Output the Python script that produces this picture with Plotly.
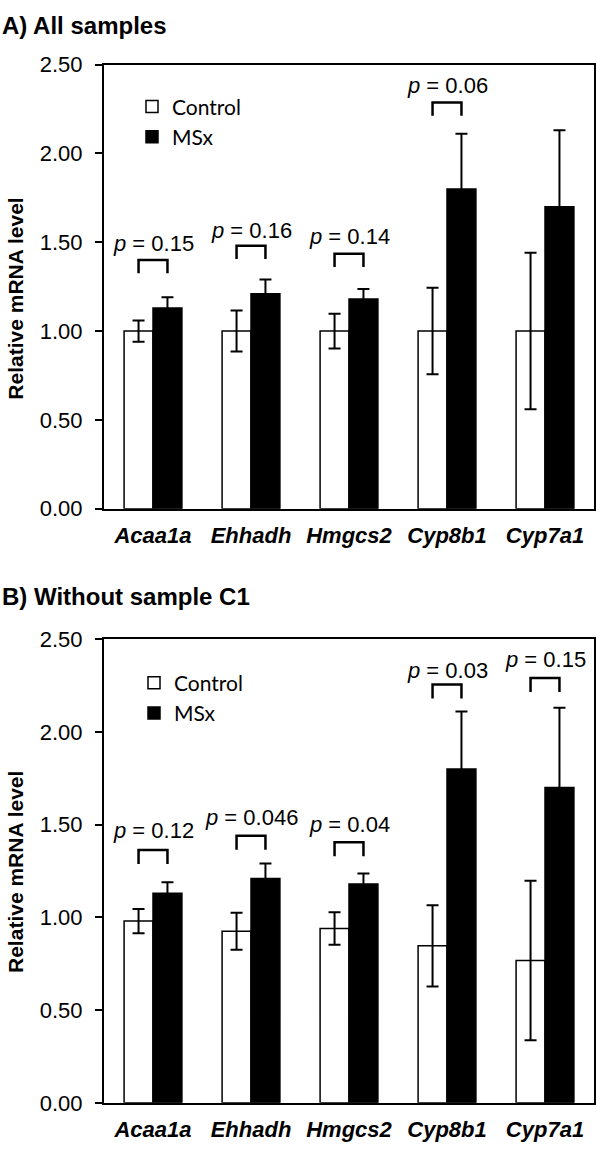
import plotly.graph_objects as go

# ---------------- data ----------------
genes = ["Acaa1a", "Ehhadh", "Hmgcs2", "Cyp8b1", "Cyp7a1"]

# Panel A: all samples
a_control = [1.00, 1.00, 1.00, 1.00, 1.00]
a_control_err = [0.06, 0.115, 0.098, 0.243, 0.44]
a_msx = [1.13, 1.21, 1.18, 1.80, 1.70]
a_msx_err = [0.06, 0.08, 0.057, 0.31, 0.43]
a_pvals = ["0.15", "0.16", "0.14", "0.06", None]
a_bracket_top = [1.40, 1.48, 1.435, 2.287, None]
a_ptext_y = [1.49, 1.566, 1.53, 2.38, None]

# Panel B: without sample C1
b_control = [0.98, 0.925, 0.94, 0.847, 0.767]
b_control_err = [0.065, 0.10, 0.088, 0.219, 0.43]
b_msx = [1.13, 1.21, 1.18, 1.80, 1.70]
b_msx_err = [0.06, 0.08, 0.057, 0.31, 0.43]
b_pvals = ["0.12", "0.046", "0.04", "0.03", "0.15"]
b_bracket_top = [1.363, 1.44, 1.405, 2.255, 2.29]
b_ptext_y = [1.47, 1.537, 1.50, 2.33, 2.39]

tick_vals = [0, 0.5, 1.0, 1.5, 2.0, 2.5]

# ---------------- styling ----------------
W, H = 596, 1155
FONT = "Liberation Sans, Arial, sans-serif"
LEG_FONT = "Lato, Open Sans, sans-serif"
BARGAP = 0.41
OFF = (1 - BARGAP) / 4  # center offset of each bar in a group of two
LEG_LEN = 0.075
xpos = list(range(len(genes)))

fig = go.Figure()


def add_panel(ctrl, ctrl_err, msx, msx_err, pvals, btop, ptext, xa, ya, legend):
    fig.add_trace(go.Bar(
        x=xpos, y=ctrl, name="Control", xaxis=xa, yaxis=ya, legend=legend,
        marker=dict(color="white", line=dict(color="black", width=1.5)),
        error_y=dict(type="data", array=ctrl_err, color="black", thickness=2, width=6),
        offsetgroup="c",
    ))
    fig.add_trace(go.Bar(
        x=xpos, y=msx, name="MSx", xaxis=xa, yaxis=ya, legend=legend,
        marker=dict(color="black", line=dict(color="black", width=1.5)),
        error_y=dict(type="data", array=msx_err, color="black", thickness=2, width=6),
        offsetgroup="m",
    ))
    bx, by = [], []
    for i, top in enumerate(btop):
        if top is None:
            continue
        bx += [i - OFF, i - OFF, i + OFF, i + OFF, None]
        by += [top - LEG_LEN, top, top, top - LEG_LEN, None]
    fig.add_trace(go.Scatter(
        x=bx, y=by, mode="lines", xaxis=xa, yaxis=ya, showlegend=False,
        line=dict(color="black", width=2.5), hoverinfo="skip",
    ))
    for i, (p, ty) in enumerate(zip(pvals, ptext)):
        if p is None:
            continue
        fig.add_annotation(
            x=i, y=ty, xref=xa, yref=ya, text=f"<i>p</i> = {p}", showarrow=False,
            xanchor="center", yanchor="middle",
            font=dict(family=FONT, size=22, color="black"),
        )


add_panel(a_control, a_control_err, a_msx, a_msx_err, a_pvals, a_bracket_top, a_ptext_y,
          "x", "y", "legend")
add_panel(b_control, b_control_err, b_msx, b_msx_err, b_pvals, b_bracket_top, b_ptext_y,
          "x2", "y2", "legend2")


def xaxis_style(anchor):
    return dict(
        domain=[104 / W, 594 / W], range=[-0.5, len(genes) - 0.5], anchor=anchor,
        tickvals=xpos, ticktext=genes, ticks="", showline=True, linecolor="black",
        linewidth=2, mirror=True, showgrid=False, zeroline=False,
        tickfont=dict(family=FONT, size=22, color="black", weight="bold", style="italic"),
        ticklabelstandoff=6,
    )


def yaxis_style(anchor, top_px, bot_px):
    return dict(
        domain=[1 - bot_px / H, 1 - top_px / H], range=[0, 2.5], anchor=anchor,
        tickvals=tick_vals, tickformat=".2f", ticks="outside", ticklen=7, tickwidth=2,
        tickcolor="black", showline=True, linecolor="black", linewidth=2, mirror=True,
        showgrid=False, zeroline=False,
        tickfont=dict(family=FONT, size=22, color="black"), ticklabelstandoff=8,
    )


fig.update_layout(
    width=W, height=H, margin=dict(l=0, r=0, t=0, b=0),
    paper_bgcolor="white", plot_bgcolor="white",
    barmode="group", bargap=BARGAP, bargroupgap=0,
    xaxis=xaxis_style("y"), yaxis=yaxis_style("x", 53.7, 507.7),
    xaxis2=xaxis_style("y2"), yaxis2=yaxis_style("x2", 641, 1115),
    legend=dict(x=132 / W, y=1 - 76 / H, xanchor="left", yanchor="top",
                font=dict(family=LEG_FONT, size=21, color="black"),
                bgcolor="rgba(0,0,0,0)", tracegroupgap=0),
    legend2=dict(x=134 / W, y=1 - 665 / H, xanchor="left", yanchor="top",
                 font=dict(family=LEG_FONT, size=21, color="black"),
                 bgcolor="rgba(0,0,0,0)", tracegroupgap=0),
    showlegend=True,
)

# panel titles
fig.add_annotation(x=0, y=1 - 14 / H, xref="paper", yref="paper", xanchor="left",
                   yanchor="middle", text="<b>A) All samples</b>", showarrow=False,
                   font=dict(family=FONT, size=24, color="black"))
fig.add_annotation(x=0, y=1 - 597 / H, xref="paper", yref="paper", xanchor="left",
                   yanchor="middle", text="<b>B) Without sample C1</b>", showarrow=False,
                   font=dict(family=FONT, size=24, color="black"))
# y-axis titles
fig.add_annotation(x=16 / W, y=1 - 293 / H, xref="paper", yref="paper", textangle=-90,
                   xanchor="center", yanchor="middle",
                   text="<b>Relative mRNA level</b>", showarrow=False,
                   font=dict(family=FONT, size=21, color="black"))
fig.add_annotation(x=16 / W, y=1 - 879 / H, xref="paper", yref="paper", textangle=-90,
                   xanchor="center", yanchor="middle",
                   text="<b>Relative mRNA level</b>", showarrow=False,
                   font=dict(family=FONT, size=21, color="black"))

fig.write_html("out.html", config={"displayModeBar": False},
               post_script="document.body.style.margin='0';")
